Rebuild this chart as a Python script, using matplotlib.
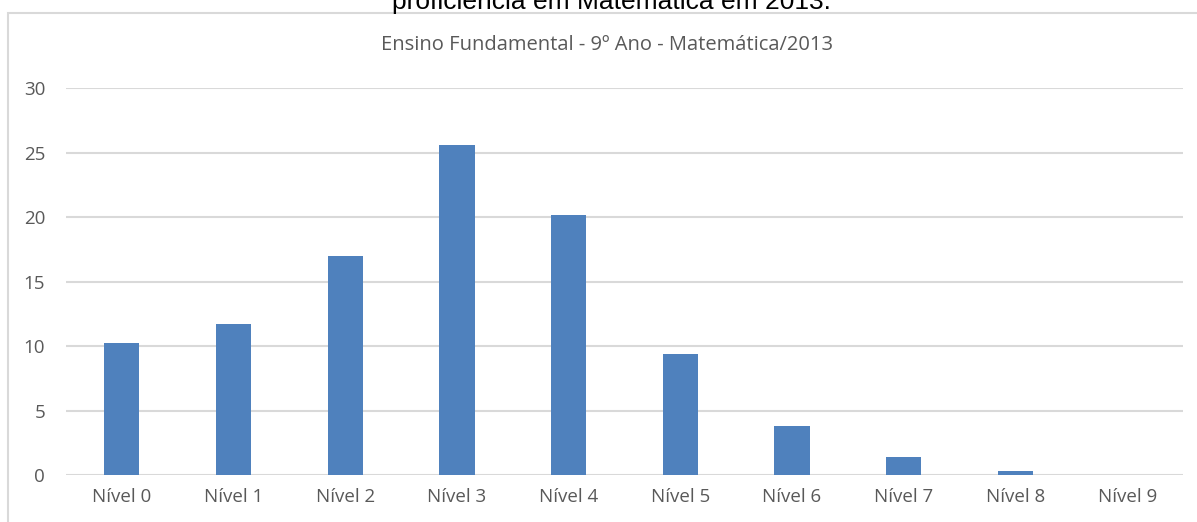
import matplotlib.pyplot as plt
from matplotlib.patches import Rectangle

# Distribution by proficiency level (%)
levels = ["Nível 0", "Nível 1", "Nível 2", "Nível 3", "Nível 4",
          "Nível 5", "Nível 6", "Nível 7", "Nível 8", "Nível 9"]
percent = [10.25, 11.7, 17.0, 25.6, 20.2, 9.4, 3.8, 1.4, 0.33, 0.0]
yticks = [0, 5, 10, 15, 20, 25, 30]

fig = plt.figure(figsize=(11.97, 5.22), dpi=100)

# chart frame
fig.patches.append(Rectangle((8 / 1197, -0.1), 1.2, (522 - 13) / 522 + 0.1,
                             transform=fig.transFigure, fill=False,
                             edgecolor="#d9d9d9", linewidth=1.5))

# caption line above the chart (partly cut off)
fig.text(611 / 1197, 1 - 9 / 522, "proficiência em Matemática em 2013.",
         ha="center", va="baseline", fontsize=19, family="Liberation Sans",
         color="black")

ax = fig.add_axes([66 / 1197, 47 / 522, (1183 - 66) / 1197, (475 - 88.3) / 522])
x = range(len(levels))
ax.bar(x, percent, width=0.315, color="#4f81bd", zorder=3)

ax.set_xlim(-0.5, len(levels) - 0.5)
ax.set_ylim(0, 30)
ax.set_yticks(yticks)
ax.set_xticks(list(x))
ax.set_xticklabels(levels)
ax.grid(axis="y", color="#d9d9d9", linewidth=1.5, zorder=0)
for s in ax.spines.values():
    s.set_visible(False)
ax.tick_params(length=0, labelsize=13.5, labelcolor="#595959")
ax.tick_params(axis="y", pad=15)
ax.tick_params(axis="x", pad=9)
for lbl in ax.get_xticklabels() + ax.get_yticklabels():
    lbl.set_family("Open Sans")

fig.text(607 / 1197, 1 - 45 / 522, "Ensino Fundamental - 9º Ano - Matemática/2013",
         ha="center", va="center", fontsize=14.5, family="Open Sans",
         color="#595959")

fig.savefig("out.png", dpi=100)
